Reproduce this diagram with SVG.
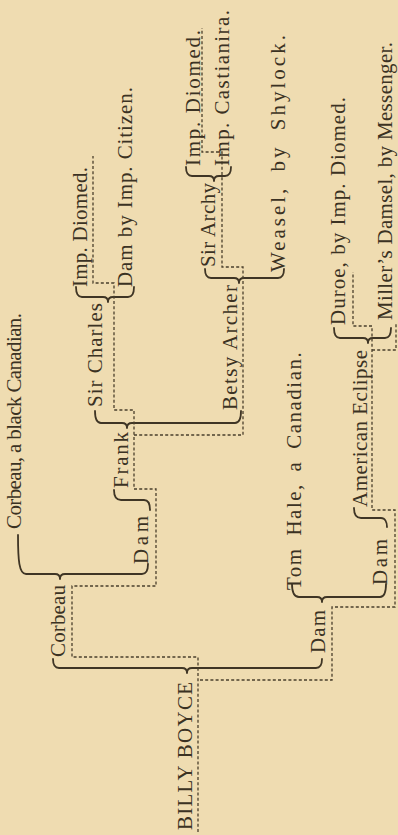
<svg xmlns="http://www.w3.org/2000/svg" width="398" height="835" viewBox="0 0 398 835">
<style>
.t{font-family:"Liberation Serif","Times New Roman",serif;font-size:21px;fill:#3b3223}
.b{fill:none;stroke:#3f3525;stroke-width:1.8;stroke-linecap:round;stroke-linejoin:round}
.d{fill:none;stroke:#4a3f2c;stroke-width:1.3;stroke-dasharray:3 2.2}
</style>
<rect width="398" height="835" fill="#efdcb1"/>
<g id="connectors">
<path class="b" d="M53,659 C53,665 55,668 59,668 L182,668 C185,668 187,670 187,673 C187,670 189,668 192,668 L316,668 C320,668 322,665 322,659"/>
<path class="b" d="M18,535 C18,560 19,574 26,574 L55,574 C58,574 60,576 60,579 C60,576 62,574 65,574 L142,574 C146,574 148,571 148,564"/>
<path class="b" d="M95,411 C95,418 97,423 101,423 L122,423 C125,423 127,425 127,428 C127,425 129,423 132,423 L235,423 C239,423 241,418 241,411"/>
<path class="b" d="M76,287 C76,293 78,297 82,297 L103,297 C106,297 108,299 108,302 C108,299 110,297 113,297 L128,297 C132,297 134,293 134,287"/>
<path class="b" d="M205,269 C205,275 207,278 211,278 L234,278 C237,278 239,280 239,283 C239,280 241,278 244,278 L278,278 C282,278 284,275 284,269"/>
<path class="b" d="M186,167 C186,173 188,176 192,176 L209,176 C212,176 214,178 214,181 C214,178 216,176 219,176 L225,176 C229,176 231,173 231,167"/>
<path class="b" d="M334,328 C334,334 336,338 340,338 L363,338 C366,338 368,340 368,343 C368,340 370,338 373,338 L385,338 C389,338 391,334 391,328"/>
<path class="b" d="M292,584 C292,592 294,597 299,597 L317,597 C320,597 322,599 322,602 C322,599 324,597 327,597 L380,597 C384,597 386,592 386,584"/>
<path class="b" d="M114,490 C114,497 116,500 121,500 L144,500 C148,500 150,504 150,510"/>
<path class="b" d="M354,508 C354,515 356,518 361,518 L381,518 C385,518 387,522 387,527"/>
<path class="d" d="M198,832 V657 H72 V586 H156 V489 H134 V410 H114 V283 H93 V156"/>
<path class="d" d="M134,435 H243 V267 H222 V152 H202 V28"/>
<path class="d" d="M200,680 H332 V607 H395 V510 H372 V326 H353 V272"/>
<path class="d" d="M372,350 H396 V322"/>
</g>
<g id="billy"><text class="t" transform="translate(192,830) rotate(-90)" textLength="148">BILLY BOYCE</text></g>
<g id="corbeau"><text class="t" transform="translate(65,657) rotate(-90)" textLength="72">Corbeau</text></g>
<g id="corbeau-sire"><text class="t" transform="translate(21,529) rotate(-90)" textLength="216">Corbeau, a black Canadian.</text></g>
<g id="corbeau-dam"><text class="t" transform="translate(148,564) rotate(-90)" textLength="48">Dam</text></g>
<g id="frank"><text class="t" transform="translate(128,488) rotate(-90)" textLength="56">Frank</text></g>
<g id="sir-charles"><text class="t" transform="translate(102,407) rotate(-90)" textLength="104">Sir Charles</text></g>
<g id="imp-diomed-1"><text class="t" transform="translate(87,287) rotate(-90)" textLength="120">Imp. Diomed.</text></g>
<g id="dam-citizen"><text class="t" transform="translate(132,287) rotate(-90)" textLength="200">Dam by Imp. Citizen.</text></g>
<g id="betsy-archer"><text class="t" transform="translate(237,410) rotate(-90)" textLength="125">Betsy Archer</text></g>
<g id="sir-archy"><text class="t" transform="translate(215,267) rotate(-90)" textLength="84">Sir Archy</text></g>
<g id="imp-diomed-2"><text class="t" transform="translate(200,166) rotate(-90)" textLength="136">Imp. Diomed.</text></g>
<g id="imp-castianira"><text class="t" transform="translate(229,166) rotate(-90)" textLength="156">Imp. Castianira.</text></g>
<g id="weasel"><text class="t" transform="translate(285,272) rotate(-90)" style="letter-spacing:3px;word-spacing:6px">Weasel, by Shylock.</text></g>
<g id="dam-billy"><text class="t" transform="translate(325,653) rotate(-90)" textLength="43">Dam</text></g>
<g id="tom-hale"><text class="t" transform="translate(301,590) rotate(-90)" style="letter-spacing:1.5px;word-spacing:5px">Tom Hale, a Canadian.</text></g>
<g id="dam-2"><text class="t" transform="translate(387,585) rotate(-90)" textLength="46">Dam</text></g>
<g id="american-eclipse"><text class="t" transform="translate(367,507) rotate(-90)" textLength="157">American Eclipse</text></g>
<g id="duroe"><text class="t" transform="translate(345,325) rotate(-90)" textLength="228">Duroe, by Imp. Diomed.</text></g>
<g id="millers-damsel"><text class="t" transform="translate(392,320) rotate(-90)" textLength="278">Miller’s Damsel, by Messenger.</text></g>
</svg>
